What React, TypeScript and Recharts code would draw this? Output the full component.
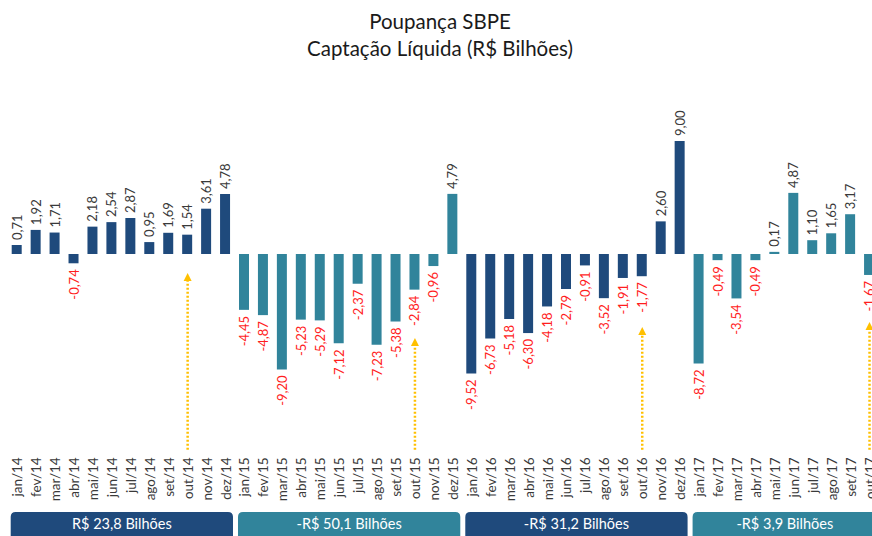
import React from 'react';
import { BarChart, Bar, XAxis, YAxis, Cell, LabelList, ReferenceLine, ReferenceArea } from 'recharts';

const months = [
  'jan/14', 'fev/14', 'mar/14', 'abr/14', 'mai/14', 'jun/14', 'jul/14', 'ago/14', 'set/14', 'out/14', 'nov/14', 'dez/14',
  'jan/15', 'fev/15', 'mar/15', 'abr/15', 'mai/15', 'jun/15', 'jul/15', 'ago/15', 'set/15', 'out/15', 'nov/15', 'dez/15',
  'jan/16', 'fev/16', 'mar/16', 'abr/16', 'mai/16', 'jun/16', 'jul/16', 'ago/16', 'set/16', 'out/16', 'nov/16', 'dez/16',
  'jan/17', 'fev/17', 'mar/17', 'abr/17', 'mai/17', 'jun/17', 'jul/17', 'ago/17', 'set/17', 'out/17',
];

const values2014 = [0.71, 1.92, 1.71, -0.74, 2.18, 2.54, 2.87, 0.95, 1.69, 1.54, 3.61, 4.78];
const values2015 = [-4.45, -4.87, -9.2, -5.23, -5.29, -7.12, -2.37, -7.23, -5.38, -2.84, -0.96, 4.79];
const values2016 = [-9.52, -6.73, -5.18, -6.3, -4.18, -2.79, -0.91, -3.52, -1.91, -1.77, 2.6, 9.0];
const values2017 = [-8.72, -0.49, -3.54, -0.49, 0.17, 4.87, 1.1, 1.65, 3.17, -1.67];

const yearSeries = [values2014, values2015, values2016, values2017];

const groupLabels = ['R$ 23,8 Bilhões', '-R$ 50,1 Bilhões', '-R$ 31,2 Bilhões', '-R$ 3,9 Bilhões'];
const groupStart = ['jan/14', 'jan/15', 'jan/16', 'jan/17'];
const groupEnd = ['dez/14', 'dez/15', 'dez/16', 'out/17'];

const arrowMonths = ['out/14', 'out/15', 'out/16', 'out/17'];
const arrowTips = [-1.51, -6.69, -5.82, -5.42];
const arrowBase = -15.6;

const NAVY = '#1F4A7C';
const TEAL = '#31849B';
const yearColors = [NAVY, TEAL, NAVY, TEAL];

const FONT = 'Lato, "Open Sans", sans-serif';

type Row = { month: string; value: number; year: number };
const data: Row[] = [];
{
  let i = 0;
  yearSeries.forEach((arr, y) => {
    arr.forEach((v) => {
      data.push({ month: months[i], value: v, year: y });
      i += 1;
    });
  });
}

const fmt = (v: number) => v.toFixed(2).replace('.', ',');

const ValueLabel = (props: any) => {
  const { x, y, width, height, value } = props;
  const v = Number(value);
  const cx = Number(x) + Number(width) / 2;
  const top = Math.min(Number(y), Number(y) + Number(height));
  const bottom = Math.max(Number(y), Number(y) + Number(height));
  if (v >= 0) {
    const ay = top - 5;
    return (
      <text
        x={cx}
        y={ay}
        transform={`rotate(-90, ${cx}, ${ay})`}
        textAnchor="start"
        dominantBaseline="central"
        fontSize={13}
        fontFamily={FONT}
        fill="#3A3A3A"
      >
        {fmt(v)}
      </text>
    );
  }
  const ay = bottom + 6;
  return (
    <text
      x={cx}
      y={ay}
      transform={`rotate(-90, ${cx}, ${ay})`}
      textAnchor="end"
      dominantBaseline="central"
      fontSize={13}
      fontFamily={FONT}
      fill="#FF1E1E"
    >
      {fmt(v)}
    </text>
  );
};

const MonthTick = (props: any) => {
  const { x, y, payload } = props;
  const ay = Number(y) + 2.5;
  return (
    <text
      x={x}
      y={ay}
      transform={`rotate(-90, ${x}, ${ay})`}
      textAnchor="end"
      dominantBaseline="central"
      fontSize={13.5}
      fontFamily={FONT}
      fill="#3A3A3A"
    >
      {payload.value}
    </text>
  );
};

const Arrow = (props: any) => {
  const { x1, y1, x2, y2 } = props;
  const x = Number(x1);
  const yb = Math.max(Number(y1), Number(y2));
  const yt = Math.min(Number(y1), Number(y2));
  return (
    <g>
      <line x1={x} y1={yb} x2={x} y2={yt + 6} stroke="#FFC000" strokeWidth={2.5} strokeDasharray="2 2" />
      <polygon points={`${x},${yt} ${x - 4},${yt + 8} ${x + 4},${yt + 8}`} fill="#FFC000" />
    </g>
  );
};

const makeBox = (label: string, color: string) => (props: any) => {
  const { x, y, width, height } = props;
  const l = Number(x) + 3;
  const r = Number(x) + Number(width) - 2;
  const t = Number(y);
  const b = Number(y) + Number(height);
  const rad = 5;
  const d = `M${l},${b} L${l},${t + rad} Q${l},${t} ${l + rad},${t} L${r - rad},${t} Q${r},${t} ${r},${t + rad} L${r},${b} Z`;
  return (
    <g>
      <path d={d} fill={color} />
      <text
        x={(l + r) / 2}
        y={t + 12}
        textAnchor="middle"
        dominantBaseline="central"
        fontSize={14.5}
        fontFamily={FONT}
        fill="#FFFFFF"
      >
        {label}
      </text>
    </g>
  );
};

export default function App() {
  return (
    <div
      style={{
        position: 'absolute',
        left: 0,
        top: 0,
        width: 872,
        height: 536,
        overflow: 'hidden',
        background: '#FFFFFF',
      }}
    >
      <div
        style={{
          position: 'absolute',
          left: 0,
          top: 8,
          width: 880,
          textAlign: 'center',
          fontFamily: FONT,
          fontSize: 20.5,
          lineHeight: '27px',
          color: '#1A1A1A',
        }}
      >
        <div>Poupança SBPE</div>
        <div>Captação Líquida (R$ Bilhões)</div>
      </div>
      <div style={{ position: 'absolute', left: 0, top: 0 }}>
        <BarChart
          width={882}
          height={536}
          data={data}
          margin={{ top: 103.4, right: 3, left: 7.7, bottom: 0 }}
          barSize={10}
        >
          <XAxis
            dataKey="month"
            interval={0}
            tickLine={false}
            axisLine={false}
            tickSize={0}
            tickMargin={0}
            height={81.2}
            tick={<MonthTick />}
          />
          <YAxis hide domain={[-16, 12]} />
          {groupLabels.map((g, i) => (
            <ReferenceArea
              key={g}
              x1={groupStart[i]}
              x2={groupEnd[i]}
              y1={-20.55}
              y2={-24}
              ifOverflow="visible"
              shape={makeBox(g, yearColors[i])}
            />
          ))}
          {arrowMonths.map((m, i) => (
            <ReferenceLine
              key={m}
              segment={[
                { x: m, y: arrowBase },
                { x: m, y: arrowTips[i] },
              ]}
              ifOverflow="visible"
              shape={<Arrow />}
            />
          ))}
          <Bar dataKey="value" isAnimationActive={false}>
            {data.map((d) => (
              <Cell key={d.month} fill={yearColors[d.year]} />
            ))}
            <LabelList dataKey="value" content={<ValueLabel />} />
          </Bar>
        </BarChart>
      </div>
    </div>
  );
}
